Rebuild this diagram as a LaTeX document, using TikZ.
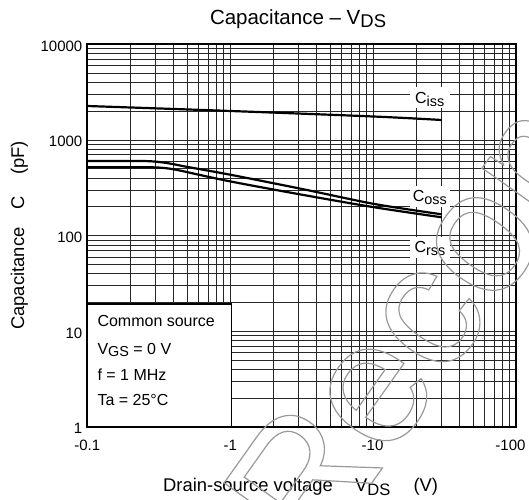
\documentclass[tikz,border=0pt]{standalone}
\usepackage{fontspec}
\setmainfont{Liberation Sans}
\newcommand{\lsub}[1]{\raisebox{-0.18em}{\scalebox{0.9}{#1}}}
\begin{document}
\begin{tikzpicture}[x=1pt,y=-1pt,
  gridline/.style={line width=0.8pt, black!85},
  frameline/.style={line width=2.2pt},
  curveline/.style={line width=2.2pt, line join=round, line cap=butt},
  ticklab/.style={font=\fontsize{15}{18}\selectfont, inner sep=0pt},
  axlab/.style={font=\fontsize{18.4}{22}\selectfont, inner sep=0pt},
  boxtext/.style={font=\fontsize{16}{19}\selectfont, inner sep=0pt, anchor=base west},
  clab/.style={font=\fontsize{16}{19}\selectfont, fill=white, anchor=base,
    text height=15pt, text depth=4pt, inner ysep=1pt, minimum width=40pt, inner xsep=2pt},
  watermark/.style={font=\fontsize{175}{175}\selectfont, inner sep=0pt, anchor=base west, rotate=54.6}]
\useasboundingbox (0,0) rectangle (529,499);
% grid
\foreach \d in {0,1,2} \foreach \k in {1,...,9} {
  \pgfmathsetmacro\gx{87.3+143*(\d+log10(\k))}
  \draw[gridline] (\gx,44) -- (\gx,427.3);
}
\foreach \d in {0,1,2,3} \foreach \k in {1,...,9} {
  \pgfmathsetmacro\gy{427.3-95.8*(\d+log10(\k))}
  \draw[gridline] (87.3,\gy) -- (516.3,\gy);
}
% curves
\draw[curveline] plot[smooth, tension=0.6] coordinates {(87.3,106) (231,111) (373.5,116.5) (441.7,120)};
\draw[curveline] (87.3,161) -- (140,161) .. controls (158,161) and (168,163) .. (185,166.5)
  plot[smooth, tension=0.5] coordinates {(185,166.5) (231.8,175) (303.6,189.3) (374.5,204) (441.7,214.3)};
\draw[curveline] (87.3,167.3) -- (150,167.3) .. controls (166,167.3) and (176,169.5) .. (192,173.2)
  plot[smooth, tension=0.5] coordinates {(192,173.2) (231.8,181.7) (303.6,195) (374.5,207.3) (441.7,217.3)};
% curve labels
\node[clab] (ciss) at (429.7,103.3) {C\lsub{iss}};
\node[clab] (coss) at (429.8,201.7) {C\lsub{oss}};
\node[clab] (crss) at (430,252.7) {C\lsub{rss}};
% legend box
\draw[line width=1.8pt, fill=white] (87.3,304) rectangle (231.5,427.3);
\node[boxtext] (l1) at (97.3,326.7) {Common source};
\node[boxtext] (l2) at (97.3,354) {V\lsub{GS} = 0 V};
\node[boxtext] (l3) at (97.3,380.7) {f = 1 MHz};
\node[boxtext] (l4) at (97.3,405.3) {Ta = 25°C};
% frame
\draw[frameline] (87.3,44) rectangle (516.3,427.3);
% y tick labels
\node[ticklab, anchor=east] (y4) at (82.5,46) {10000};
\node[ticklab, anchor=east] (y3) at (82.5,141.5) {1000};
\node[ticklab, anchor=east] (y2) at (82.5,237) {100};
\node[ticklab, anchor=east] (y1) at (82.5,333) {10};
\node[ticklab, anchor=east] (y0) at (82.5,428) {1};
% x tick labels
\node[ticklab, anchor=base] (x0) at (87.3,450) {-0.1};
\node[ticklab, anchor=base] (x1) at (230.3,450) {-1};
\node[ticklab, anchor=base] (x2) at (372.5,450) {-10};
\node[ticklab, anchor=base] (x3) at (510.5,450) {-100};
% title
\node[font=\fontsize{20.5}{24}\selectfont, inner sep=0pt, anchor=base west] (title) at (209.8,24) {Capacitance – V\lsub{DS}};
% axis labels
\node[axlab, anchor=base west] (xl1) at (163,491.7) {Drain-source voltage};
\node[axlab, anchor=base west] (xl2) at (355,491.7) {V\lsub{DS}};
\node[axlab, anchor=base west] (xl3) at (413.3,491.7) {(V)};
\node[axlab, anchor=base west, rotate=90] (yl1) at (24,330) {Capacitance};
\node[axlab, anchor=base west, rotate=90] (yl2) at (24,210) {C};
\node[axlab, anchor=base west, rotate=90] (yl3) at (24,175) {(pF)};
% watermark (outlined text)
\node[watermark] (wm) at (313.8,564.5) {\special{pdf:literal direct 1 Tr 0.6 G 1.2 w}Recommended\special{pdf:literal direct 0 Tr}};
\end{tikzpicture}
\end{document}
